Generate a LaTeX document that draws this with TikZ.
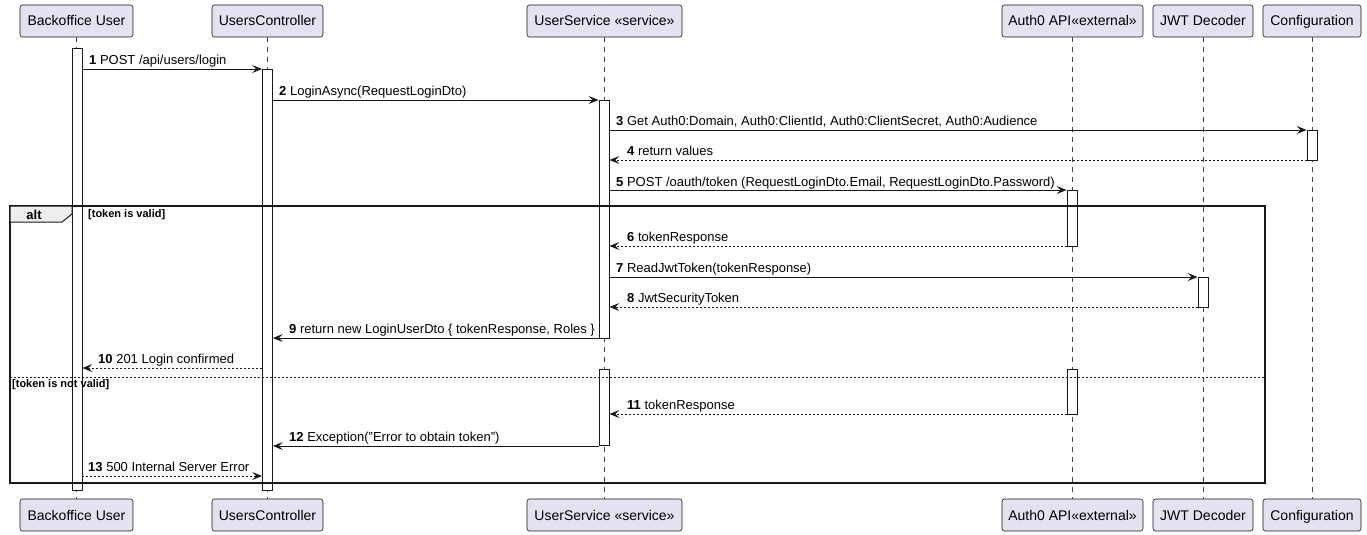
\documentclass[tikz,border=0pt]{standalone}
\usepackage{fontspec}
\setmainfont{Liberation Sans}
\usetikzlibrary{arrows.meta}
\definecolor{pfill}{HTML}{E2E2F0}
\definecolor{ink}{HTML}{181818}
\definecolor{tabfill}{HTML}{EEEEEE}
\tikzset{
  part/.style={draw=ink, line width=0.6pt, fill=pfill, rounded corners=2.5pt, minimum height=32pt, inner sep=0pt, text height=11pt, text depth=1pt, font=\fontsize{14}{16}\selectfont},
  life/.style={draw=ink!80, line width=0.6pt, dash pattern=on 5pt off 5pt},
  act/.style={draw=ink, line width=0.8pt, fill=white, minimum width=10pt, inner sep=0pt},
  msg/.style={draw=ink, line width=1pt, -{Stealth[length=10pt,width=8pt,inset=4pt]}},
  ret/.style={msg, dash pattern=on 2pt off 2pt},
  lbl/.style={anchor=base west, inner sep=0pt, font=\fontsize{13}{15}\selectfont},
  glbl/.style={anchor=west, inner sep=0pt, font=\bfseries\fontsize{11}{13}\selectfont},
}
\newcommand{\nb}[1]{\textbf{#1}}
\begin{document}
\begin{tikzpicture}[x=1pt,y=-1pt]
\useasboundingbox (0,0) rectangle (1367,535);
% participants
\node[part, minimum width=113pt] (bu_t) at (76.5,21) {Backoffice User};
\node[part, minimum width=111pt] (uc_t) at (267.5,21) {UsersController};
\node[part, minimum width=155pt] (us_t) at (604.5,21) {UserService «service»};
\node[part, minimum width=141pt] (au_t) at (1072.5,21) {Auth0 API«external»};
\node[part, minimum width=100pt] (jw_t) at (1203,21) {JWT Decoder};
\node[part, minimum width=98pt] (cf_t) at (1312,21) {Configuration};
\node[part, minimum width=113pt] (bu_b) at (76.5,515) {Backoffice User};
\node[part, minimum width=111pt] (uc_b) at (267.5,515) {UsersController};
\node[part, minimum width=155pt] (us_b) at (604.5,515) {UserService «service»};
\node[part, minimum width=141pt] (au_b) at (1072.5,515) {Auth0 API«external»};
\node[part, minimum width=100pt] (jw_b) at (1203,515) {JWT Decoder};
\node[part, minimum width=98pt] (cf_b) at (1312,515) {Configuration};
% lifelines
\foreach \p in {bu,uc,us,au,jw,cf}{\draw[life] (\p_t.south) -- (\p_b.north);}
% activations
\node[act, minimum height=442pt] (bu_a) at (77,269) {};
\node[act, minimum height=421pt] (uc_a) at (267.5,279.5) {};
\node[act, minimum height=238pt] (us_a1) at (604,219) {};
\node[act, minimum height=30pt] (cf_a) at (1312,145) {};
\node[act, minimum height=56pt] (au_a1) at (1072,218) {};
\node[act, minimum height=30pt] (jw_a) at (1203,292) {};
\node[act, minimum height=76pt] (us_a2) at (604,407) {};
\node[act, minimum height=45pt] (au_a2) at (1072,391.5) {};
% alt frame
\draw[ink, line width=1.5pt] (10,206) rectangle (1265,483);
\draw[ink, line width=1pt, fill=tabfill] (10,206) -- (72,206) -- (72,214) -- (62,222) -- (10,222) -- cycle;
\node[inner sep=0pt, font=\bfseries\fontsize{13}{15}\selectfont] (alt) at (34,214.5) {alt};
\node[glbl] (g1) at (88,215) {[token is valid]};
\draw[ink, line width=1pt, dash pattern=on 2pt off 2pt] (10,377) -- (1265,377);
\node[glbl] (g2) at (12,385) {[token is not valid]};
% messages
\draw[msg] (bu_a.east |- 0,69) -- (uc_a.west |- 0,69);
\node[lbl] at (89,64) {\nb{1} POST /api/users/login};
\draw[msg] (uc_a.east |- 0,100) -- (us_a1.west |- 0,100);
\node[lbl] at (279,95) {\nb{2} LoginAsync(RequestLoginDto)};
\draw[msg] (us_a1.east |- 0,130) -- (cf_a.west |- 0,130);
\node[lbl] at (616,125) {\nb{3} Get Auth0:Domain, Auth0:ClientId, Auth0:ClientSecret, Auth0:Audience};
\draw[ret] (cf_a.west |- 0,160) -- (us_a1.east |- 0,160);
\node[lbl] at (627,155) {\nb{4} return values};
\draw[msg] (us_a1.east |- 0,190) -- (au_a1.west |- 0,190);
\node[lbl] at (616,186) {\nb{5} POST /oauth/token (RequestLoginDto.Email, RequestLoginDto.Password)};
\draw[ret] (au_a1.west |- 0,246) -- (us_a1.east |- 0,246);
\node[lbl] at (627,241) {\nb{6} tokenResponse};
\draw[msg] (us_a1.east |- 0,277) -- (jw_a.west |- 0,277);
\node[lbl] at (616,272) {\nb{7} ReadJwtToken(tokenResponse)};
\draw[ret] (jw_a.west |- 0,307) -- (us_a1.east |- 0,307);
\node[lbl] at (627,302) {\nb{8} JwtSecurityToken};
\draw[msg] (us_a1.west |- 0,338) -- (uc_a.east |- 0,338);
\node[lbl] at (289,333) {\nb{9} return new LoginUserDto \{ tokenResponse, Roles \}};
\draw[ret] (uc_a.west |- 0,368) -- (bu_a.east |- 0,368);
\node[lbl] at (98,363) {\nb{10} 201 Login confirmed};
\draw[ret] (au_a2.west |- 0,414) -- (us_a2.east |- 0,414);
\node[lbl] at (627,409) {\nb{11} tokenResponse};
\draw[msg] (us_a2.west |- 0,446) -- (uc_a.east |- 0,446);
\node[lbl] at (289,441) {\nb{12} Exception("Error to obtain token")};
\draw[ret] (bu_a.east |- 0,476) -- (uc_a.west |- 0,476);
\node[lbl] at (88,471) {\nb{13} 500 Internal Server Error};
\end{tikzpicture}
\end{document}
